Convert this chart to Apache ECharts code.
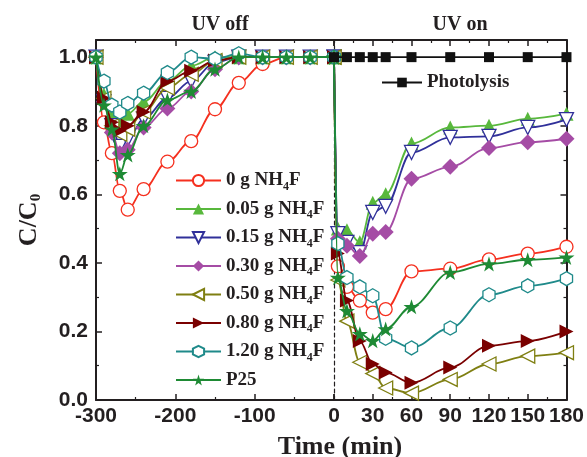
<!DOCTYPE html>
<html>
<head>
<meta charset="utf-8">
<script src="https://cdn.jsdelivr.net/npm/echarts@6/dist/echarts.min.js"></script>
<style>
  html, body { margin: 0; padding: 0; background: #fff; }
  #chart { width: 587px; height: 457px; }
</style>
</head>
<body>
<div id="chart"></div>
<script>
(function () {
  var ink = '#231f20';
  var sans = 'Liberation Sans, Arial, sans-serif';
  var serif = 'Liberation Serif, Times New Roman, serif';

  // dark adsorption stage (UV off)
  var darkTimes = [-300, -290, -280, -270, -260, -240, -210, -180, -150, -120, -90, -60, -30, 0];
  // irradiation stage (UV on)
  var uvTimes = [0, 3, 10, 20, 30, 40, 60, 90, 120, 150, 180];
  var photoTimes = [0, 10, 20, 30, 40, 60, 90, 120, 150, 180];

  var names = ['0 g NH4F', '0.05 g NH4F', '0.15 g NH4F', '0.30 g NH4F', '0.50 g NH4F', '0.80 g NH4F', '1.20 g NH4F', 'P25'];

  var dark0   = [1, 0.81, 0.72, 0.61, 0.555, 0.615, 0.695, 0.755, 0.848, 0.925, 0.98, 1.0, 1.0, 1.0];
  var dark005 = [1, 0.89, 0.83, 0.815, 0.835, 0.87, 0.93, 0.975, 1.0, 1.0, 1.0, 1.0, 1.0, 1.0];
  var dark015 = [1, 0.87, 0.80, 0.74, 0.76, 0.82, 0.88, 0.93, 0.985, 1.0, 1.0, 1.0, 1.0, 1.0];
  var dark030 = [1, 0.87, 0.78, 0.72, 0.73, 0.795, 0.85, 0.90, 0.965, 1.0, 1.0, 1.0, 1.0, 1.0];
  var dark050 = [1, 0.88, 0.80, 0.775, 0.79, 0.84, 0.91, 0.95, 0.99, 1.0, 1.0, 1.0, 1.0, 1.0];
  var dark080 = [1, 0.88, 0.81, 0.785, 0.80, 0.84, 0.93, 0.96, 0.99, 1.0, 1.0, 1.0, 1.0, 1.0];
  var dark120 = [1, 0.93, 0.86, 0.84, 0.865, 0.895, 0.955, 1.0, 0.995, 1.01, 1.0, 1.0, 1.0, 1.0];
  var darkP25 = [1, 0.86, 0.79, 0.66, 0.715, 0.80, 0.875, 0.90, 0.965, 1.0, 1.0, 1.0, 1.0, 1.0];

  var uv0   = [1, 0.39, 0.33, 0.29, 0.255, 0.265, 0.375, 0.383, 0.41, 0.427, 0.447];
  var uv005 = [1, 0.50, 0.495, 0.46, 0.575, 0.60, 0.748, 0.795, 0.80, 0.82, 0.835];
  var uv015 = [1, 0.485, 0.46, 0.43, 0.547, 0.565, 0.722, 0.766, 0.769, 0.795, 0.818];
  var uv030 = [1, 0.47, 0.45, 0.42, 0.485, 0.49, 0.645, 0.68, 0.735, 0.752, 0.762];
  var uv050 = [1, 0.35, 0.23, 0.11, 0.077, 0.035, 0.02, 0.06, 0.105, 0.128, 0.138];
  var uv080 = [1, 0.427, 0.29, 0.172, 0.105, 0.08, 0.05, 0.095, 0.158, 0.172, 0.2];
  var uv120 = [1, 0.456, 0.357, 0.33, 0.304, 0.18, 0.152, 0.21, 0.307, 0.333, 0.354];
  var uvP25 = [1, 0.357, 0.26, 0.193, 0.173, 0.207, 0.272, 0.372, 0.397, 0.409, 0.416];
  var photolysis = [1, 1, 1, 1, 1, 1, 1, 1, 1, 1];

  var darkSets = [dark0, dark005, dark015, dark030, dark050, dark080, dark120, darkP25];
  var uvSets = [uv0, uv005, uv015, uv030, uv050, uv080, uv120, uvP25];

  var hexagon = 'path://M50,0 L93.3,25 L93.3,75 L50,100 L6.7,75 L6.7,25 Z';
  var star = 'path://M50,0 L61,35 L98,35 L68,57 L79,91 L50,70 L21,91 L32,57 L2,35 L39,35 Z';

  // colour, symbol, rotate, size, filled
  var looks = [
    ['#f5301f', 'circle', 0, 13, false],
    ['#58b83c', 'triangle', 0, 14, true],
    ['#30309a', 'triangle', 180, 14, false],
    ['#a54ca5', 'diamond', 0, 16, true],
    ['#7f7f12', 'triangle', 90, 14, false],
    ['#7a0000', 'triangle', -90, 14, true],
    ['#1f8a8a', hexagon, 0, 14, false],
    ['#1e8a34', star, 0, 16, true]
  ];

  function pairs(xs, ys) {
    return xs.map(function (x, i) { return [x, ys[i]]; });
  }

  function makeSeries(i, xi, yi, data) {
    var c = looks[i];
    return {
      name: names[i],
      type: 'line',
      xAxisIndex: xi,
      yAxisIndex: yi,
      data: data,
      smooth: 0.35,
      smoothMonotone: 'x',
      symbol: c[1],
      symbolRotate: c[2],
      symbolSize: c[3],
      symbolKeepAspect: true,
      lineStyle: { color: c[0], width: 1.8 },
      itemStyle: c[4] ? { color: c[0] } : { color: '#fff', borderColor: c[0], borderWidth: 1.3 },
      z: 3 + i
    };
  }

  var series = [];
  names.forEach(function (n, i) {
    series.push(makeSeries(i, 0, 0, pairs(darkTimes, darkSets[i])));
  });
  names.forEach(function (n, i) {
    series.push(makeSeries(i, 2, 1, pairs(uvTimes, uvSets[i])));
  });
  series.push({
    name: 'Photolysis',
    type: 'line',
    xAxisIndex: 2,
    yAxisIndex: 1,
    data: pairs(photoTimes, photolysis),
    symbol: 'rect',
    symbolSize: 10,
    lineStyle: { color: '#111', width: 1.8 },
    itemStyle: { color: '#111' },
    z: 12
  });

  var labelFont = { color: ink, fontFamily: sans, fontWeight: 'bold', fontSize: 21 };
  var lineStyle = { color: ink, width: 2 };

  function xAxisBase(grid, pos, min, max, step, labels) {
    return {
      type: 'value',
      gridIndex: grid,
      position: pos,
      min: min,
      max: max,
      interval: step,
      axisLine: { show: true, onZero: false, lineStyle: lineStyle },
      axisTick: { show: true, inside: true, length: 6, lineStyle: { color: ink, width: 1.5 } },
      minorTick: { show: true, splitNumber: 2, length: 3, lineStyle: { color: ink, width: 1.2 } },
      splitLine: { show: false },
      axisLabel: labels ? Object.assign({ margin: 6 }, labels) : { show: false }
    };
  }

  var legendRich = {
    t: { color: ink, fontFamily: serif, fontWeight: 'bold', fontSize: 19 },
    s: { color: ink, fontFamily: serif, fontWeight: 'bold', fontSize: 12, padding: [12, 0, 0, 0] }
  };

  var chart = echarts.init(document.getElementById('chart'), null, { renderer: 'canvas' });
  chart.setOption({
    animation: false,
    backgroundColor: '#fff',
    title: [
      { text: 'UV off', left: 215, top: 10, textAlign: 'center', textStyle: { color: ink, fontFamily: serif, fontWeight: 'bold', fontSize: 20 } },
      { text: 'UV on', left: 455, top: 10, textAlign: 'center', textStyle: { color: ink, fontFamily: serif, fontWeight: 'bold', fontSize: 20 } },
      { text: 'Time (min)', left: 335, top: 429, textAlign: 'center', textStyle: { color: ink, fontFamily: serif, fontWeight: 'bold', fontSize: 26 } }
    ],
    grid: [
      { left: 96, right: 253, top: 40, bottom: 57 },
      { left: 334, right: 15, top: 40, bottom: 57 }
    ],
    legend: [
      {
        data: names,
        orient: 'vertical',
        left: 170,
        top: 166,
        itemWidth: 45,
        itemHeight: 14,
        itemGap: 7,
        formatter: function (n) {
          var m = n.split('NH4F');
          return m.length > 1 ? '{t|' + m[0] + 'NH}{s|4}{t|F}' : '{t|' + n + '}';
        },
        textStyle: { rich: legendRich }
      },
      {
        data: ['Photolysis'],
        left: 376,
        top: 68,
        itemWidth: 40,
        itemHeight: 12,
        formatter: function (n) { return '{t|' + n + '}'; },
        textStyle: { rich: legendRich }
      }
    ],
    xAxis: [
      xAxisBase(0, 'bottom', -300, 0, 100, Object.assign({ showMaxLabel: false }, labelFont)),
      xAxisBase(0, 'top', -300, 0, 100, null),
      xAxisBase(1, 'bottom', 0, 180, 30, Object.assign({ showMinLabel: true }, labelFont)),
      xAxisBase(1, 'top', 0, 180, 30, null)
    ],
    yAxis: [
      {
        type: 'value',
        gridIndex: 0,
        position: 'left',
        min: 0,
        max: 1.05,
        interval: 0.2,
        name: '{t|C/C}{s|0}',
        nameLocation: 'middle',
        nameGap: 52,
        nameTextStyle: {
          rich: {
            t: { color: ink, fontFamily: serif, fontWeight: 'bold', fontSize: 26 },
            s: { color: ink, fontFamily: serif, fontWeight: 'bold', fontSize: 15, padding: [14, 0, 0, 0] }
          }
        },
        axisLine: { show: true, onZero: false, lineStyle: lineStyle },
        axisTick: { show: true, inside: true, length: 6, lineStyle: { color: ink, width: 1.5 } },
        minorTick: { show: true, splitNumber: 2, length: 3, lineStyle: { color: ink, width: 1.2 } },
        splitLine: { show: false },
        axisLabel: Object.assign({
          margin: 8,
          showMaxLabel: false,
          formatter: function (v) { return v > 1.01 ? '' : v.toFixed(1); }
        }, labelFont)
      },
      {
        type: 'value',
        gridIndex: 1,
        position: 'left',
        min: 0,
        max: 1.05,
        interval: 0.2,
        axisLine: { show: true, onZero: false, lineStyle: { color: ink, width: 1.2, type: [4, 3] } },
        axisTick: { show: false },
        splitLine: { show: false },
        axisLabel: { show: false }
      },
      {
        type: 'value',
        gridIndex: 1,
        position: 'right',
        min: 0,
        max: 1.05,
        interval: 0.2,
        axisLine: { show: true, onZero: false, lineStyle: lineStyle },
        axisTick: { show: true, inside: true, length: 6, lineStyle: { color: ink, width: 1.5 } },
        minorTick: { show: true, splitNumber: 2, length: 3, lineStyle: { color: ink, width: 1.2 } },
        splitLine: { show: false },
        axisLabel: { show: false }
      }
    ],
    series: series
  });
})();
</script>
</body>
</html>
